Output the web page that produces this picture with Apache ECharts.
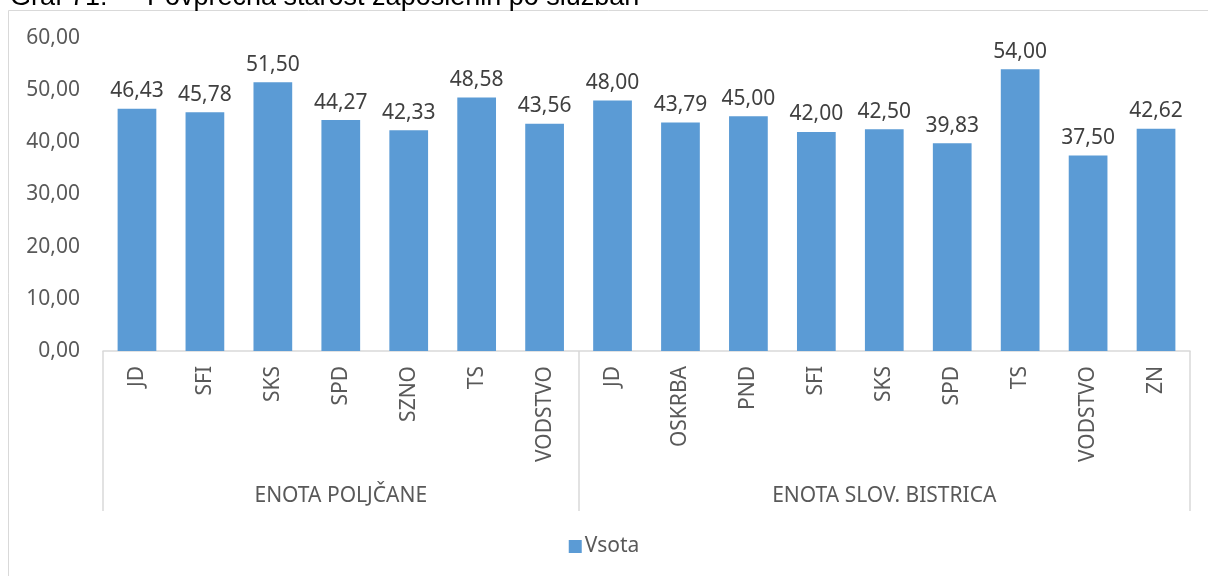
<!DOCTYPE html>
<html lang="sl">
<head>
    <meta charset="UTF-8">
    <title>Povprečna starost zaposlenih po službah</title>
    <script src="https://cdn.jsdelivr.net/npm/echarts@6/dist/echarts.min.js"></script>
    <style>
        html, body { margin: 0; padding: 0; background: #fff; }
        #main { width: 1208px; height: 576px; }
    </style>
</head>
<body>
<div id="main"></div>
<script type="text/javascript">
    // podatki
    var categories = ['JD', 'SFI', 'SKS', 'SPD', 'SZNO', 'TS', 'VODSTVO',
        'JD', 'OSKRBA', 'PND', 'SFI', 'SKS', 'SPD', 'TS', 'VODSTVO', 'ZN'];
    var values = [46.43, 45.78, 51.50, 44.27, 42.33, 48.58, 43.56,
        48.00, 43.79, 45.00, 42.00, 42.50, 39.83, 54.00, 37.50, 42.62];
    var groupNames = ['ENOTA POLJČANE', 'ENOTA SLOV. BISTRICA'];
    var groupSizes = [7, 9];
    var yTicks = [0, 10, 20, 30, 40, 50, 60];
    var seriesName = 'Vsota';

    var FONT = 'Noto Sans';
    var FS = 21;

    // meje skupin in sredine za oznake skupin
    var boundaries = [0];
    var groupLabels = categories.map(function () { return ''; });
    var start = 0;
    for (var i = 0; i < groupSizes.length; i++) {
        groupLabels[start + Math.floor((groupSizes[i] - 1) / 2)] = groupNames[i];
        start += groupSizes[i];
        boundaries.push(start);
    }

    function fmt(v) {
        return Number(v).toFixed(2).replace('.', ',');
    }

    var myChart = echarts.init(document.getElementById('main'));
    myChart.setOption({
        animation: false,
        textStyle: { fontFamily: FONT },
        graphic: [
            {
                type: 'rect', silent: true,
                shape: { x: 8.5, y: 10.5, width: 1220, height: 600 },
                style: { fill: 'none', stroke: '#d9d9d9', lineWidth: 1 }
            },
            {
                type: 'text', left: 10, top: -16, silent: true,
                style: { text: 'Graf 71:', font: '27px "Liberation Sans"', fill: '#000' }
            },
            {
                type: 'text', left: 147, top: -16, silent: true,
                style: { text: 'Povprečna starost zaposlenih po službah', font: '27px "Liberation Sans"', fill: '#000' }
            }
        ],
        grid: { left: 103, right: 18, top: 38, bottom: 225 },
        legend: {
            data: [seriesName],
            bottom: 14,
            left: 'center',
            icon: 'rect',
            itemWidth: 13,
            itemHeight: 13,
            itemGap: 4,
            textStyle: { fontSize: FS, color: '#595959', fontFamily: FONT, padding: [0, 0, 0, -2] }
        },
        xAxis: [
            {
                type: 'category',
                data: categories,
                axisLine: { lineStyle: { color: '#d9d9d9', width: 1.5 } },
                axisTick: {
                    show: true,
                    length: 160,
                    interval: function (idx) { return boundaries.indexOf(idx) >= 0; },
                    lineStyle: { color: '#d9d9d9', width: 1.5 }
                },
                axisLabel: {
                    rotate: 90,
                    interval: 0,
                    margin: 15,
                    fontSize: FS,
                    color: '#595959',
                    fontFamily: FONT
                }
            },
            {
                type: 'category',
                position: 'bottom',
                data: groupLabels,
                axisLine: { show: false },
                axisTick: { show: false },
                axisLabel: {
                    interval: 0,
                    margin: 135,
                    fontSize: FS,
                    color: '#595959',
                    fontFamily: FONT
                }
            }
        ],
        yAxis: {
            type: 'value',
            min: yTicks[0],
            max: yTicks[yTicks.length - 1],
            interval: yTicks[1] - yTicks[0],
            splitLine: { show: false },
            axisLine: { show: false },
            axisTick: { show: false },
            axisLabel: {
                margin: 23,
                fontSize: FS,
                color: '#595959',
                fontFamily: FONT,
                formatter: fmt
            }
        },
        series: [{
            name: seriesName,
            type: 'bar',
            xAxisIndex: 0,
            data: values,
            barCategoryGap: '43%',
            itemStyle: { color: '#5b9bd5' },
            label: {
                show: true,
                position: 'top',
                distance: 7,
                fontSize: FS,
                color: '#404040',
                fontFamily: FONT,
                formatter: function (p) { return fmt(p.value); }
            }
        }]
    });
</script>
</body>
</html>
